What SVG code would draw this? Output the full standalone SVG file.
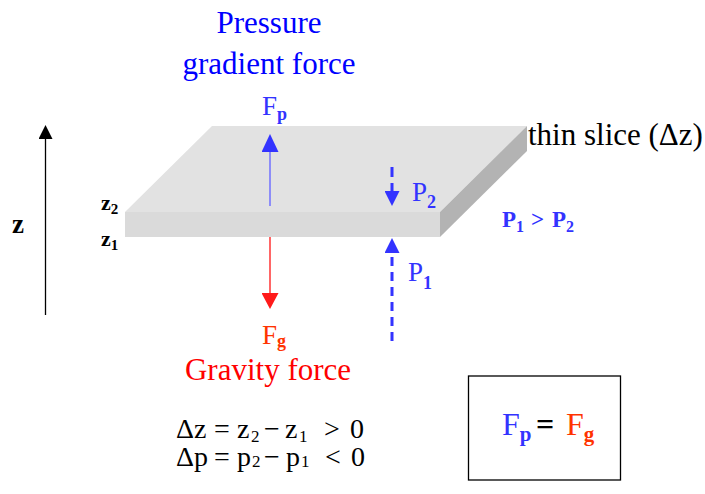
<svg xmlns="http://www.w3.org/2000/svg" width="705" height="494" viewBox="0 0 705 494" font-family="'Liberation Serif', 'Times New Roman', serif">
<style>
.blue{fill:#3333ff;}
.title{fill:#0000ff;font-size:31px;text-anchor:middle;}
.red{fill:#ff0000;}
.orange{fill:#ff3300;}
.b{font-weight:bold;}
.eq{font-size:28px;fill:#000;}
.sub{font-size:17px;}
</style>
<defs>
<marker id="ahBlue" markerUnits="userSpaceOnUse" markerWidth="18" markerHeight="17" refX="0" refY="8.5" orient="auto"><path d="M0,0 L18,8.5 L0,17 z" fill="#3333ff"/></marker>
<marker id="ahBlueS" markerUnits="userSpaceOnUse" markerWidth="15" markerHeight="15" refX="0" refY="7.5" orient="auto"><path d="M0,0 L15,7.5 L0,15 z" fill="#3333ff"/></marker>
<marker id="ahRed" markerUnits="userSpaceOnUse" markerWidth="16" markerHeight="17" refX="0" refY="8.5" orient="auto"><path d="M0,0 L16,8.5 L0,17 z" fill="#ff1a1a"/></marker>
<marker id="ahBlack" markerUnits="userSpaceOnUse" markerWidth="14" markerHeight="14" refX="0" refY="7" orient="auto"><path d="M0,0 L14,7 L0,14 z" fill="#000"/></marker>
</defs>
<rect width="705" height="494" fill="#fff"/>

<g id="slab">
<polygon points="125,212 212,126 527,126 440,212" fill="#e2e2e2"/>
<polygon points="440,212 527,126 527,151 440,237" fill="#b3b3b3"/>
<rect x="125" y="212" width="315" height="25" fill="#dadada"/>
</g>

<g id="connectors">
<line x1="270" y1="206" x2="270" y2="152" stroke="#7070ff" stroke-width="1.5" marker-end="url(#ahBlue)"/>
<line x1="270" y1="237" x2="270" y2="293" stroke="#ff3333" stroke-width="1.5" marker-end="url(#ahRed)"/>
<line x1="392" y1="341" x2="392" y2="253" stroke="#3333ff" stroke-width="3" stroke-dasharray="9 6" marker-end="url(#ahBlueS)"/>
<line x1="392" y1="167" x2="392" y2="191" stroke="#3333ff" stroke-width="3" stroke-dasharray="10 6" marker-end="url(#ahBlueS)"/>
<line x1="45.5" y1="315" x2="45.5" y2="139" stroke="#000" stroke-width="1.3" marker-end="url(#ahBlack)"/>
</g>

<g id="pgf-label">
<text class="title" x="269" y="33">Pressure</text>
<text class="title" x="269" y="74">gradient force</text>
<text class="blue" x="262" y="115" font-size="27">F<tspan class="b" font-size="18" dy="5">p</tspan></text>
</g>

<g id="gravity-label">
<text class="orange" x="262" y="344" font-size="27">F<tspan class="b" font-size="18" dy="3">g</tspan></text>
<text class="red" x="268" y="380" font-size="31" text-anchor="middle">Gravity force</text>
</g>

<g id="p-labels">
<text class="blue" x="412" y="201" font-size="27">P<tspan class="b" font-size="18" dy="7">2</tspan></text>
<text class="blue" x="408" y="281" font-size="27">P<tspan class="b" font-size="18" dy="8">1</tspan></text>
<text class="blue b" x="502" y="227" font-size="23">P<tspan font-size="16" dy="5">1</tspan><tspan x="531" dy="-5">&gt;</tspan><tspan x="552">P</tspan><tspan font-size="16" dy="5">2</tspan></text>
</g>

<g id="slice-label">
<text x="528" y="145" font-size="31" fill="#000">thin slice (Δz)</text>
</g>

<g id="z-axis-labels">
<text class="b" x="12" y="233" font-size="27" fill="#000">z</text>
<text class="b" x="101" y="210" font-size="22" fill="#000">z<tspan font-size="15" dy="4">2</tspan></text>
<text class="b" x="101" y="246" font-size="22" fill="#000">z<tspan font-size="15" dy="4">1</tspan></text>
</g>

<g id="equations">
<text class="eq" y="438"><tspan x="176">Δz</tspan><tspan x="214">=</tspan><tspan x="237">z</tspan><tspan class="sub" x="251" dy="4">2</tspan><tspan x="264" dy="-4">−</tspan><tspan x="285">z</tspan><tspan class="sub" x="299" dy="4">1</tspan><tspan x="324" dy="-4">&gt;</tspan><tspan x="350">0</tspan></text>
<text class="eq" y="466"><tspan x="176">Δp</tspan><tspan x="214">=</tspan><tspan x="237">p</tspan><tspan class="sub" x="252" dy="1">2</tspan><tspan x="264" dy="-1">−</tspan><tspan x="286">p</tspan><tspan class="sub" x="301" dy="1">1</tspan><tspan x="325" dy="-1">&lt;</tspan><tspan x="351">0</tspan></text>
</g>

<g id="balance-box">
<rect x="468.5" y="376" width="152" height="104" fill="none" stroke="#000" stroke-width="1.3"/>
<text x="502" y="435" font-size="32"><tspan class="blue">F</tspan><tspan class="blue b" font-size="21" dy="6">p</tspan><tspan class="b" x="536" dy="-6" fill="#000">=</tspan><tspan class="orange" x="566">F</tspan><tspan class="orange b" font-size="21" dy="6">g</tspan></text>
</g>
</svg>
